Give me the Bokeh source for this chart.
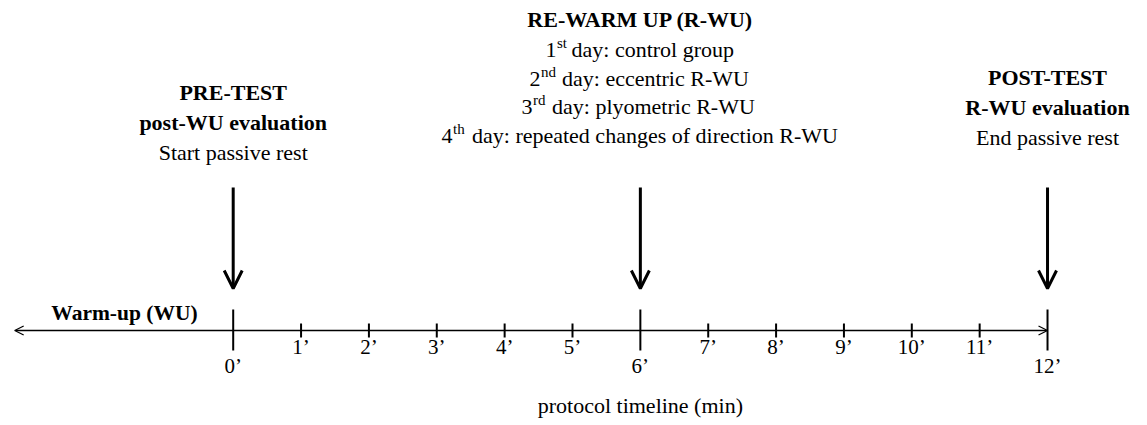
from bokeh.plotting import figure
from bokeh.models import Range1d, Arrow, OpenHead, ColumnDataSource
from bokeh.core.properties import value
from bokeh.embed import file_html
from bokeh.resources import INLINE

# ---------------- data ----------------
major_minutes = [0, 6, 12]
minor_minutes = [1, 2, 3, 4, 5, 7, 8, 9, 10, 11]
major_labels = ["0’", "6’", "12’"]
minor_labels = ["1’", "2’", "3’", "4’", "5’", "7’", "8’", "9’", "10’", "11’"]
wu_start = -3.22          # left end of the timeline (warm-up, minutes)
timeline_end = 12

event_minutes = [0, 6, 12]

pre_lines = ["PRE-TEST", "post-WU evaluation", "Start passive rest"]
pre_bold = ["bold", "bold", "normal"]
post_lines = ["POST-TEST", "R-WU evaluation", "End passive rest"]
post_bold = ["bold", "bold", "normal"]
rwu_title = "RE-WARM UP (R-WU)"
day_numbers = ["1", "2", "3", "4"]
day_suffixes = ["st", "nd", "rd", "th"]
day_texts = ["day: control group", "day: eccentric R-WU",
             "day: plyometric R-WU", "day: repeated changes of direction R-WU"]

wu_label = "Warm-up (WU)"
axis_title = "protocol timeline (min)"

# ---------------- layout ----------------
PX0 = 232.7     # page px of minute 0
PXM = 67.86     # px per minute
W, H = 1147, 425
FONT = value("Liberation Serif")
DY = -8         # text baseline correction

def px_to_min(px):
    return (px - PX0) / PXM

p = figure(width=W, height=H, output_backend="svg", toolbar_location=None,
           x_range=Range1d(px_to_min(0), px_to_min(W)),
           y_range=Range1d(H, 0), min_border=0,
           x_axis_location=None, y_axis_location=None)
p.outline_line_color = None
p.grid.visible = False
p.background_fill_color = "white"
p.border_fill_color = "white"

AXIS_Y = 330

# timeline with two open heads
p.add_layout(Arrow(start=OpenHead(size=9, line_width=1.3, line_color="black"),
                   end=OpenHead(size=9, line_width=1.3, line_color="black"),
                   x_start=wu_start, y_start=AXIS_Y, x_end=timeline_end, y_end=AXIS_Y,
                   line_width=1.3, line_color="black"))

# ticks
p.segment(x0=major_minutes, y0=[309] * 3, x1=major_minutes, y1=[350] * 3,
          line_width=2, line_color="black")
p.segment(x0=minor_minutes, y0=[323] * len(minor_minutes), x1=minor_minutes,
          y1=[337] * len(minor_minutes), line_width=2, line_color="black")

p.text(x=minor_minutes, y=[354 + DY] * len(minor_minutes), text=minor_labels,
       text_font=FONT, text_font_size="21px", text_align="center",
       text_baseline="alphabetic", text_color="black")
p.text(x=major_minutes, y=[373 + DY] * 3, text=major_labels,
       text_font=FONT, text_font_size="21px", text_align="center",
       text_baseline="alphabetic", text_color="black")

# event arrows
for m in event_minutes:
    p.add_layout(Arrow(end=OpenHead(size=18, line_width=3, line_color="black"),
                       x_start=m, y_start=187, x_end=m, y_end=288,
                       line_width=3, line_color="black"))

def block(x, lines, styles, baselines):
    src = ColumnDataSource(dict(x=[x] * len(lines), y=[b + DY for b in baselines],
                                t=lines, s=styles))
    p.text(x="x", y="y", text="t", text_font_style="s", source=src,
           text_font=FONT, text_font_size="22px", text_align="center",
           text_baseline="alphabetic", text_color="black")

block(event_minutes[0], pre_lines, pre_bold, [100, 130, 160])
block(event_minutes[2], post_lines, post_bold, [85, 115, 145])
block(event_minutes[1], [rwu_title], ["bold"], [27])

# day lines with superscripts
day_base = [b + DY for b in [57, 86, 114, 143]]
num_start = [545, 529, 521, 441]
sup_start = [v + 11.5 for v in num_start]
rest_start = [571, 561.5, 551.5, 471.5]
cx = PX0 + 6 * PXM
m6 = event_minutes[1]
p.text(x=[m6] * 4, y=day_base, text=day_numbers,
       x_offset=[v - cx for v in num_start],
       text_font=FONT, text_font_size="22px", text_align="left",
       text_baseline="alphabetic", text_color="black")
p.text(x=[m6] * 4, y=[b - 7 for b in day_base], text=day_suffixes,
       x_offset=[v - cx for v in sup_start],
       text_font=FONT, text_font_size="15px", text_align="left",
       text_baseline="alphabetic", text_color="black")
p.text(x=[m6] * 4, y=day_base, text=day_texts,
       x_offset=[v - cx for v in rest_start],
       text_font=FONT, text_font_size="22px", text_align="left",
       text_baseline="alphabetic", text_color="black")

# warm-up label and axis title
p.text(x=[px_to_min(124)], y=[320 + DY], text=[wu_label], text_font=FONT,
       text_font_style="bold", text_font_size="21.5px", text_align="center",
       text_baseline="alphabetic", text_color="black")
p.text(x=[6], y=[413 + DY], text=[axis_title], text_font=FONT,
       text_font_size="22px", text_align="center",
       text_baseline="alphabetic", text_color="black")

open("out.html", "w").write(file_html(p, INLINE))
